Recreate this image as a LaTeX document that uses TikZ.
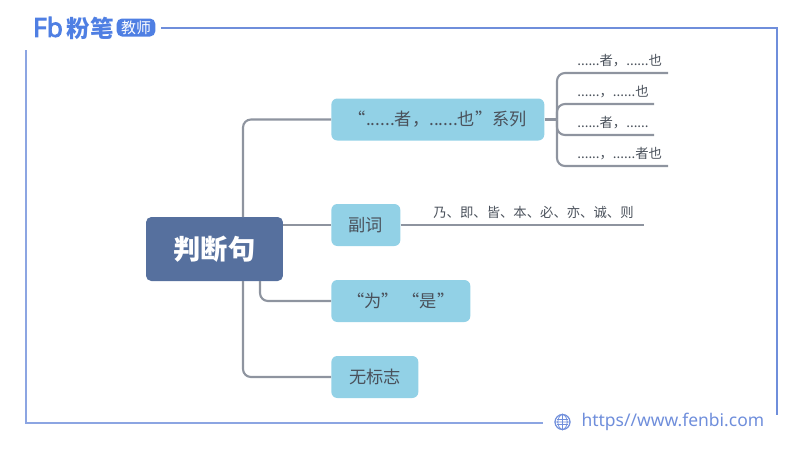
\documentclass[tikz,border=0pt]{standalone}
\usepackage{fontspec}
\setmainfont{Noto Sans CJK SC}
\newfontfamily\latinfont{Noto Sans}
\newfontfamily\logofont[FakeBold=3]{Noto Sans}
\usetikzlibrary{positioning,calc}
\definecolor{framecol}{HTML}{6F8EDB}
\definecolor{logocol}{HTML}{4F7FE3}
\definecolor{rootcol}{HTML}{56709E}
\definecolor{topiccol}{HTML}{92D1E6}
\definecolor{linkcol}{HTML}{8E949F}
\definecolor{textcol}{HTML}{4A515B}
\tikzset{
  frameline/.style={framecol,line width=1.1pt},
  link/.style={linkcol,line width=1.2pt,rounded corners=4.5pt},
  topic/.style={fill=topiccol,rounded corners=3.4pt,text=textcol,font=\fontsize{9.8}{12}\selectfont,
    inner sep=0pt,minimum height=0.84cm,anchor=west},
  leaf/.style={text=textcol,font=\fontsize{7.6}{9}\selectfont,inner sep=0pt,anchor=base west},
}
\begin{document}
\begin{tikzpicture}[x=0.02cm,y=-0.02cm]
  \useasboundingbox (0,0) rectangle (800,450);
  % Frame
  \draw[frameline] (161,28) -- (777,28) -- (777,415);
  \draw[frameline,opacity=0.8] (26,50) -- (26,423) -- (543,423);
  % Logo
  \node[text=logocol,font=\fontsize{15}{15}\logofont,inner sep=0pt] (fb) at (48,27) {Fb};
  \node[text=logocol,font=\fontsize{13.4}{14}\bfseries\selectfont,inner sep=0pt] (brand) at (90,28) {粉笔};
  \node[fill=logocol,text=white,rounded corners=3pt,font=\fontsize{8.5}{10}\selectfont,
    inner xsep=2.5pt,inner ysep=0pt,minimum height=0.36cm] (badge) at (136,27.5) {教师};
  % Root and topics
  \node[fill=rootcol,rounded corners=3pt,text=white,font=\fontsize{15.5}{18}\bfseries\selectfont,
    minimum width=2.74cm,minimum height=1.28cm,inner sep=0pt] (root) at (214.5,249) {判断句};
  \node[topic,minimum width=4.26cm] (series) at (331,119.5) {“......者，......也”系列};
  \node[topic,minimum width=1.38cm] (adverb) at (331,225) {副词};
  \node[topic,minimum width=2.78cm] (wei) at (331,301) {“为”\ “是”};
  \node[topic,minimum width=1.74cm] (wu) at (331,377) {无标志};
  % Connectors from root
  \coordinate (rootup) at (243,217);
  \coordinate (rootdown) at (243,281);
  \coordinate (rootwei) at (260,281);
  \coordinate (rootside) at (283,225);
  \draw[link] (rootup) |- (series.west);
  \draw[link] (rootside) -- (adverb.west);
  \draw[link] (rootwei) |- (wei.west);
  \draw[link] (rootdown) |- (wu.west);
  % Leaves of the series
  \coordinate (hub) at (557,119.5);
  \coordinate (endA) at (668,73);
  \coordinate (endB) at (654,104);
  \coordinate (endC) at (654,135);
  \coordinate (endD) at (668,166);
  \draw[link] (series.east) -- (hub);
  \draw[link] (hub) |- (endA);
  \draw[link] (hub) |- (endB);
  \draw[link] (hub) |- (endC);
  \draw[link] (hub) |- (endD);
  \node[leaf] (leafA) at (577,65.5) {......者，......也};
  \node[leaf] (leafB) at (577,96.5) {......，......也};
  \node[leaf] (leafC) at (577,127.5) {......者，......};
  \node[leaf] (leafD) at (577,158) {......，......者也};
  % Adverb line
  \coordinate (endE) at (644,225);
  \draw[link] (adverb.east) -- (endE);
  \node[leaf] (leafE) at (433,217) {乃、即、皆、本、必、亦、诚、则};
  % Web address
  \node[circle,draw=framecol,line width=0.7pt,minimum size=0.3cm,inner sep=0pt] (globe) at (562.5,422) {};
  \draw[framecol,line width=0.4pt] (globe.north) -- (globe.south) (globe.west) -- (globe.east)
    (globe.north) .. controls (556,418) and (556,426) .. (globe.south)
    (globe.north) .. controls (569,418) and (569,426) .. (globe.south);
  \draw[framecol,line width=0.4pt] ($(globe.north west)!0.3!(globe.south west)$) -- ($(globe.north east)!0.3!(globe.south east)$)
    ($(globe.north west)!0.7!(globe.south west)$) -- ($(globe.north east)!0.7!(globe.south east)$);
  \node[right=6pt of globe,inner sep=0pt,text=framecol,font=\fontsize{9.95}{12}\latinfont] (site) {https//www.fenbi.com};
\end{tikzpicture}
\end{document}
